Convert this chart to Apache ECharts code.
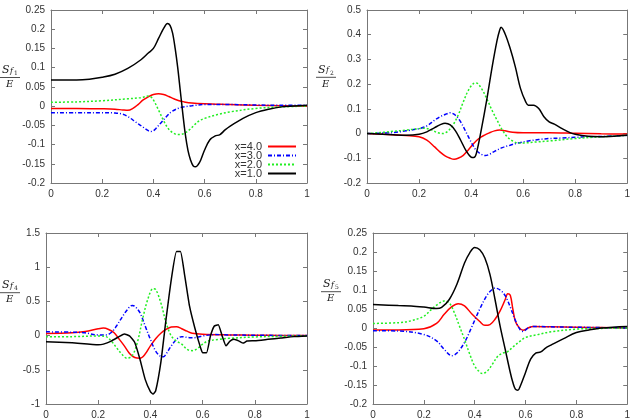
<!DOCTYPE html>
<html>
<head>
<meta charset="utf-8">
<script src="https://cdn.jsdelivr.net/npm/echarts@6/dist/echarts.min.js"></script>
<style>html,body{margin:0;padding:0;background:#fff}#c{width:633px;height:420px}</style>
</head>
<body>
<div id="c"></div>
<script>
// ---- data ----
const seriesNames = ['x=4.0', 'x=3.0', 'x=2.0', 'x=1.0'];
const xTickLabels = ['0', '0.2', '0.4', '0.6', '0.8', '1'];

// panel 1: S_f1/E
const p1_x4 = [[0,-0.006],[0.1,-0.006],[0.2,-0.007],[0.25,-0.008],[0.28,-0.01],[0.3,-0.011],[0.32,-0.006],[0.34,0.004],[0.36,0.016],[0.38,0.024],[0.4,0.03],[0.42,0.032],[0.44,0.03],[0.46,0.025],[0.48,0.019],[0.5,0.014],[0.52,0.011],[0.55,0.008],[0.6,0.006],[0.7,0.004],[0.8,0.002],[0.9,0.001],[1,0.0]];
const p1_x3 = [[0,-0.017],[0.1,-0.017],[0.2,-0.017],[0.25,-0.018],[0.28,-0.021],[0.3,-0.027],[0.33,-0.041],[0.36,-0.055],[0.38,-0.064],[0.39,-0.066],[0.4,-0.064],[0.41,-0.058],[0.43,-0.043],[0.45,-0.028],[0.47,-0.015],[0.5,-0.005],[0.52,-0.002],[0.55,0.001],[0.6,0.004],[0.7,0.004],[0.8,0.003],[0.9,0.002],[1,0.002]];
const p1_x2 = [[0,0.01],[0.1,0.011],[0.2,0.014],[0.3,0.019],[0.35,0.022],[0.38,0.026],[0.39,0.024],[0.4,0.016],[0.42,-0.01],[0.44,-0.038],[0.46,-0.06],[0.48,-0.071],[0.5,-0.074],[0.52,-0.071],[0.54,-0.062],[0.56,-0.049],[0.58,-0.038],[0.6,-0.032],[0.65,-0.022],[0.7,-0.015],[0.8,-0.006],[0.9,-0.002],[1,0]];
const p1_x1 = [[0,0.068],[0.1,0.068],[0.15,0.07],[0.2,0.075],[0.25,0.083],[0.3,0.098],[0.35,0.12],[0.38,0.138],[0.4,0.15],[0.42,0.176],[0.44,0.202],[0.455,0.215],[0.465,0.21],[0.475,0.19],[0.485,0.15],[0.495,0.1],[0.505,0.04],[0.515,-0.02],[0.525,-0.075],[0.535,-0.115],[0.545,-0.14],[0.555,-0.155],[0.565,-0.158],[0.575,-0.152],[0.585,-0.14],[0.6,-0.114],[0.62,-0.088],[0.64,-0.078],[0.66,-0.074],[0.68,-0.062],[0.7,-0.052],[0.75,-0.032],[0.8,-0.017],[0.85,-0.008],[0.9,-0.002],[0.95,0],[1,0.002]];

// panel 2: S_f2/E
const p2_x4 = [[0,0],[0.1,-0.005],[0.15,-0.008],[0.2,-0.013],[0.23,-0.027],[0.26,-0.054],[0.28,-0.074],[0.3,-0.09],[0.32,-0.1],[0.335,-0.104],[0.35,-0.1],[0.37,-0.088],[0.39,-0.065],[0.41,-0.04],[0.43,-0.02],[0.45,-0.007],[0.47,0.003],[0.49,0.011],[0.51,0.014],[0.53,0.011],[0.56,0.005],[0.6,0.003],[0.7,0.003],[0.8,0.001],[0.9,-0.001],[1,-0.002]];
const p2_x3 = [[0,0],[0.1,0.004],[0.15,0.011],[0.2,0.02],[0.23,0.031],[0.26,0.054],[0.28,0.068],[0.3,0.077],[0.32,0.084],[0.34,0.074],[0.36,0.047],[0.38,0.007],[0.4,-0.034],[0.42,-0.068],[0.44,-0.084],[0.455,-0.089],[0.47,-0.084],[0.49,-0.072],[0.52,-0.057],[0.55,-0.047],[0.58,-0.038],[0.62,-0.03],[0.66,-0.024],[0.7,-0.02],[0.75,-0.018],[0.8,-0.015],[0.85,-0.013],[0.9,-0.012],[1,-0.007]];
const p2_x2 = [[0,0],[0.05,0.004],[0.1,0.009],[0.15,0.014],[0.2,0.02],[0.22,0.022],[0.25,0.014],[0.27,0.004],[0.29,0.0],[0.31,0.009],[0.33,0.034],[0.35,0.074],[0.37,0.128],[0.39,0.176],[0.41,0.203],[0.42,0.205],[0.44,0.182],[0.46,0.142],[0.48,0.095],[0.5,0.054],[0.52,0.014],[0.54,-0.014],[0.56,-0.03],[0.58,-0.038],[0.6,-0.038],[0.65,-0.034],[0.7,-0.03],[0.8,-0.02],[0.9,-0.013],[1,-0.007]];
const p2_x1 = [[0,0],[0.1,-0.005],[0.15,-0.007],[0.2,-0.003],[0.23,0.007],[0.26,0.024],[0.28,0.035],[0.3,0.042],[0.32,0.035],[0.34,0.011],[0.36,-0.027],[0.38,-0.068],[0.4,-0.095],[0.41,-0.097],[0.42,-0.081],[0.44,0.02],[0.46,0.135],[0.48,0.264],[0.5,0.378],[0.51,0.419],[0.515,0.43],[0.53,0.405],[0.55,0.345],[0.57,0.27],[0.59,0.182],[0.61,0.128],[0.62,0.115],[0.64,0.115],[0.66,0.101],[0.68,0.068],[0.7,0.047],[0.72,0.038],[0.75,0.02],[0.78,0.004],[0.8,-0.003],[0.85,-0.011],[0.9,-0.013],[0.95,-0.011],[1,-0.007]];

// panel 3: S_f4/E
const p3_x4 = [[0,0.03],[0.1,0.04],[0.15,0.06],[0.2,0.1],[0.22,0.11],[0.24,0.09],[0.26,0.045],[0.28,-0.05],[0.3,-0.15],[0.32,-0.26],[0.34,-0.32],[0.36,-0.33],[0.38,-0.27],[0.4,-0.15],[0.42,-0.045],[0.44,0.035],[0.46,0.09],[0.48,0.125],[0.5,0.13],[0.52,0.1],[0.54,0.065],[0.56,0.035],[0.6,0.02],[0.7,0.01],[0.8,0.005],[0.9,0.002],[1,0]];
const p3_x3 = [[0,0.055],[0.1,0.05],[0.15,0.04],[0.2,0.01],[0.23,0.01],[0.25,0.045],[0.27,0.14],[0.29,0.26],[0.31,0.37],[0.33,0.44],[0.34,0.43],[0.36,0.335],[0.38,0.14],[0.4,-0.055],[0.42,-0.225],[0.44,-0.305],[0.45,-0.31],[0.46,-0.27],[0.48,-0.15],[0.5,-0.055],[0.52,-0.015],[0.55,-0.03],[0.57,-0.03],[0.6,-0.005],[0.65,0.015],[0.7,0.01],[0.8,0.005],[1,0]];
const p3_x2 = [[0,-0.015],[0.1,-0.015],[0.2,-0.005],[0.23,-0.015],[0.25,-0.08],[0.27,-0.175],[0.29,-0.27],[0.31,-0.33],[0.33,-0.295],[0.35,-0.1],[0.37,0.24],[0.39,0.53],[0.41,0.685],[0.42,0.675],[0.44,0.48],[0.46,0.19],[0.48,-0.005],[0.5,-0.08],[0.52,-0.125],[0.54,-0.2],[0.56,-0.22],[0.58,-0.19],[0.6,-0.125],[0.62,-0.08],[0.66,-0.055],[0.7,-0.04],[0.8,-0.02],[0.9,-0.01],[1,-0.005]];
const p3_x1 = [[0,-0.09],[0.1,-0.105],[0.2,-0.135],[0.22,-0.125],[0.25,-0.08],[0.28,-0.015],[0.3,0.025],[0.32,-0.005],[0.34,-0.1],[0.36,-0.345],[0.38,-0.64],[0.4,-0.82],[0.41,-0.855],[0.42,-0.81],[0.44,-0.39],[0.46,0.24],[0.48,0.82],[0.5,1.23],[0.515,1.23],[0.53,0.915],[0.55,0.43],[0.57,0.115],[0.59,-0.15],[0.6,-0.25],[0.615,-0.25],[0.63,-0.005],[0.645,0.14],[0.66,0.16],[0.675,-0.005],[0.69,-0.15],[0.705,-0.08],[0.72,-0.055],[0.74,-0.08],[0.755,-0.11],[0.77,-0.08],[0.8,-0.075],[0.85,-0.055],[0.9,-0.035],[0.95,-0.015],[1,-0.005]];

// panel 4: S_f5/E
const p4_x4 = [[0,-0.005],[0.1,-0.005],[0.2,-0.002],[0.25,0.012],[0.28,0.036],[0.31,0.056],[0.335,0.064],[0.36,0.058],[0.39,0.036],[0.42,0.017],[0.44,0.007],[0.46,0.009],[0.48,0.023],[0.5,0.045],[0.52,0.075],[0.53,0.09],[0.54,0.086],[0.55,0.05],[0.56,0.018],[0.575,0.001],[0.59,-0.006],[0.61,0.0],[0.63,0.004],[0.7,0.003],[0.8,0.002],[0.9,0.001],[1,0]];
const p4_x3 = [[0,-0.007],[0.1,-0.008],[0.2,-0.017],[0.25,-0.034],[0.28,-0.056],[0.31,-0.073],[0.33,-0.066],[0.36,-0.038],[0.39,0.005],[0.42,0.05],[0.45,0.088],[0.47,0.102],[0.48,0.105],[0.5,0.1],[0.52,0.085],[0.54,0.055],[0.56,0.02],[0.58,-0.006],[0.59,-0.009],[0.61,0.0],[0.63,0.004],[0.7,0.003],[0.8,0.002],[0.9,0.001],[1,0]];
const p4_x2 = [[0,0.012],[0.1,0.014],[0.15,0.019],[0.2,0.031],[0.23,0.049],[0.25,0.06],[0.28,0.071],[0.3,0.066],[0.32,0.04],[0.34,0.005],[0.36,-0.03],[0.38,-0.068],[0.4,-0.1],[0.42,-0.116],[0.43,-0.12],[0.45,-0.113],[0.47,-0.095],[0.49,-0.075],[0.51,-0.066],[0.53,-0.062],[0.55,-0.05],[0.58,-0.034],[0.6,-0.025],[0.65,-0.017],[0.7,-0.01],[0.8,-0.003],[0.9,-0.001],[1,0]];
const p4_x1 = [[0,0.062],[0.1,0.059],[0.15,0.058],[0.2,0.055],[0.25,0.051],[0.27,0.054],[0.3,0.075],[0.33,0.115],[0.36,0.171],[0.38,0.197],[0.4,0.212],[0.42,0.206],[0.44,0.184],[0.46,0.141],[0.48,0.075],[0.5,0.005],[0.52,-0.056],[0.54,-0.117],[0.55,-0.143],[0.56,-0.161],[0.57,-0.164],[0.58,-0.152],[0.6,-0.117],[0.62,-0.082],[0.64,-0.066],[0.66,-0.063],[0.68,-0.052],[0.7,-0.045],[0.75,-0.028],[0.8,-0.012],[0.85,-0.005],[0.9,0],[1,0.004]];

const yRanges = [[-0.2, 0.25, 0.05], [-0.2, 0.5, 0.1], [-1, 1.5, 0.5], [-0.2, 0.25, 0.05]];
const ySubs = ['1', '2', '4', '5'];

// ---- chart ----
const panels = [
  [p1_x4, p1_x3, p1_x2, p1_x1],
  [p2_x4, p2_x3, p2_x2, p2_x1],
  [p3_x4, p3_x3, p3_x2, p3_x1],
  [p4_x4, p4_x3, p4_x2, p4_x1]
];
const grids = [
  {left: 51, top: 10, width: 256, height: 173},
  {left: 367, top: 10, width: 261, height: 173},
  {left: 46, top: 233, width: 261, height: 172},
  {left: 373, top: 233, width: 255, height: 172}
];
const fracPos = [[0, 77.5], [316, 77.3], [0, 292.7], [321, 291.7]];

const lineStyles = [
  {color: '#ff0000', width: 1.5, type: 'solid'},
  {color: '#0000ff', width: 1.5, type: [4, 2, 1, 2]},
  {color: '#22ee22', width: 1.5, type: [2, 2]},
  {color: '#000000', width: 1.5, type: 'solid'}
];

const fmt = v => String(+(+v).toFixed(2));
const axisLineCol = '#777';
const labelStyle = {color: '#333', fontSize: 10, fontFamily: 'Liberation Sans, Arial, sans-serif'};

const xAxes = [], yAxes = [], series = [];
grids.forEach((g, i) => {
  const xb = {
    type: 'value', gridIndex: i, min: 0, max: 1, interval: 0.2,
    axisLine: {show: true, onZero: false, lineStyle: {color: axisLineCol}},
    axisTick: {show: true, inside: true, length: 4, lineStyle: {color: axisLineCol}},
    splitLine: {show: false},
    axisLabel: Object.assign({margin: 6, formatter: v => xTickLabels[Math.round(v / 0.2)]}, labelStyle)
  };
  const xt = Object.assign({}, xb, {position: 'top', axisLabel: {show: false}});
  xAxes.push(Object.assign({position: 'bottom'}, xb), xt);
  const r = yRanges[i];
  const yb = {
    type: 'value', gridIndex: i, min: r[0], max: r[1], interval: r[2],
    axisLine: {show: true, onZero: false, lineStyle: {color: axisLineCol}},
    axisTick: {show: true, inside: true, length: 4, lineStyle: {color: axisLineCol}},
    splitLine: {show: false},
    axisLabel: Object.assign({margin: 6, formatter: fmt}, labelStyle)
  };
  const yr = Object.assign({}, yb, {position: 'right', axisLabel: {show: false}});
  yAxes.push(Object.assign({position: 'left'}, yb), yr);
  panels[i].forEach((d, k) => {
    const isJagged = (i === 2 && k === 3);
    series.push({
      type: 'line', name: seriesNames[k], data: d,
      xAxisIndex: 2 * i, yAxisIndex: 2 * i,
      symbol: 'none', showSymbol: false,
      smooth: isJagged ? 0.15 : 0.35,
      lineStyle: lineStyles[k], itemStyle: {color: lineStyles[k].color},
      z: 2 + k
    });
  });
});

const graphics = [];
fracPos.forEach((p, i) => {
  const x0 = p[0], y0 = p[1];
  graphics.push(
    {type: 'text', left: x0 + 2, top: y0 - 13, style: {text: 'S', font: 'italic 11px "DejaVu Serif", serif', fill: '#222'}},
    {type: 'text', left: x0 + 10, top: y0 - 11, style: {text: 'f', font: 'italic 8px "DejaVu Serif", serif', fill: '#222'}},
    {type: 'text', left: x0 + 14, top: y0 - 7, style: {text: ySubs[i], font: '6px "DejaVu Serif", serif', fill: '#222'}},
    {type: 'line', shape: {x1: x0, y1: y0, x2: x0 + 20, y2: y0}, style: {stroke: '#222', lineWidth: 0.8}},
    {type: 'text', left: x0 + 6, top: y0 + 2, style: {text: 'E', font: 'italic 10px "DejaVu Serif", serif', fill: '#222'}}
  );
});

const chart = echarts.init(document.getElementById('c'), null, {renderer: 'canvas'});
chart.setOption({
  animation: false,
  backgroundColor: '#fff',
  grid: grids,
  xAxis: xAxes,
  yAxis: yAxes,
  series: series,
  legend: {
    data: seriesNames,
    orient: 'vertical',
    right: 336,
    top: 141,
    padding: 0,
    align: 'right',
    itemWidth: 28,
    itemHeight: 8,
    itemGap: -2,
    itemStyle: {opacity: 0},
    textStyle: {color: '#333', fontSize: 11, lineHeight: 9.7, padding: [0, 1, 0, 0], fontFamily: 'Liberation Sans, Arial, sans-serif'},
    selectedMode: false
  },
  graphic: graphics
});
</script>
</body>
</html>
